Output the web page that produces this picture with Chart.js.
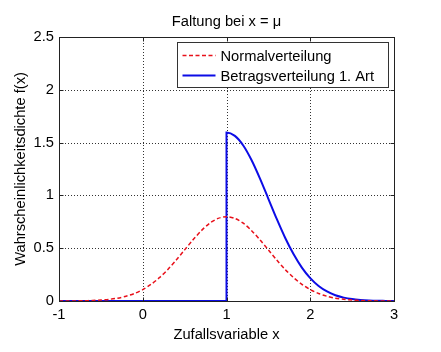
<!DOCTYPE html>
<html>
<head>
<meta charset="utf-8">
<script src="https://cdn.jsdelivr.net/npm/chart.js@4/dist/chart.umd.min.js"></script>
<style>
  html, body { margin: 0; padding: 0; background: #fff; }
  canvas { display: block; }
</style>
</head>
<body>
<canvas id="c" width="441" height="352"></canvas>
<script>
// Sample positions on the x axis
const xValues = [-1.0,-0.9,-0.8,-0.7,-0.6,-0.5,-0.4,-0.3,-0.2,-0.1,
                  0.0, 0.1, 0.2, 0.3, 0.4, 0.5, 0.6, 0.7, 0.8, 0.9,
                  1.0, 1.1, 1.2, 1.3, 1.4, 1.5, 1.6, 1.7, 1.8, 1.9,
                  2.0, 2.1, 2.2, 2.3, 2.4, 2.5, 2.6, 2.7, 2.8, 2.9, 3.0];

// Normal density (mu = 1)
const normalValues = [0.000,0.001,0.001,0.002,0.005,0.009,0.016,0.027,0.045,0.071,
                      0.108,0.158,0.222,0.299,0.388,0.484,0.579,0.666,0.737,0.782,
                      0.798,0.782,0.737,0.666,0.579,0.484,0.388,0.299,0.222,0.158,
                      0.108,0.071,0.045,0.027,0.016,0.009,0.005,0.002,0.001,0.001,0.000];

// Folded density: zero below mu, jumps at mu
const foldedX      = [-1.0, 1.0, 1.0, 1.1, 1.2, 1.3, 1.4, 1.5, 1.6, 1.7, 1.8, 1.9,
                       2.0, 2.1, 2.2, 2.3, 2.4, 2.5, 2.6, 2.7, 2.8, 2.9, 3.0];
const foldedValues = [0.000, 0.000, 1.596, 1.564, 1.473, 1.333, 1.159, 0.968, 0.777, 0.599, 0.444, 0.316,
                      0.216, 0.142, 0.090, 0.054, 0.032, 0.018, 0.010, 0.005, 0.002, 0.001, 0.000];

const xTicks = [-1, 0, 1, 2, 3];
const yTicks = [0, 0.5, 1, 1.5, 2, 2.5];

const seriesNames = ['Normalverteilung', 'Betragsverteilung 1. Art'];
const titleText = 'Faltung bei x = \u03bc';

const FONT = 'Arial, "Liberation Sans", sans-serif';
const FS = 14.7;

const normalPts = xValues.map((x, i) => ({ x, y: normalValues[i] }));
const foldedPts = foldedX.map((x, i) => ({ x, y: foldedValues[i] }));

// Frame, inward ticks, title and legend box
const decor = {
  id: 'decor',
  beforeDatasetsDraw(chart) {
    const { ctx, chartArea: a, scales } = chart;
    ctx.save();
    // dotted grid
    ctx.strokeStyle = '#333';
    ctx.lineWidth = 1;
    ctx.setLineDash([1, 2]);
    xTicks.forEach(v => {
      const px = Math.round(scales.x.getPixelForValue(v)) + 0.5;
      if (px > a.left + 1 && px < a.right - 1) {
        ctx.beginPath(); ctx.moveTo(px, a.top); ctx.lineTo(px, a.bottom); ctx.stroke();
      }
    });
    yTicks.forEach(v => {
      const py = Math.round(scales.y.getPixelForValue(v)) + 0.5;
      if (py > a.top + 1 && py < a.bottom - 1) {
        ctx.beginPath(); ctx.moveTo(a.left, py); ctx.lineTo(a.right, py); ctx.stroke();
      }
    });
    ctx.restore();
  },
  afterDatasetsDraw(chart) {
    const { ctx, chartArea: a, scales } = chart;
    ctx.save();
    ctx.setLineDash([]);
    ctx.strokeStyle = '#222';
    ctx.lineWidth = 1;
    const L = Math.round(a.left) + 0.5, R = Math.round(a.right) + 0.5;
    const T = Math.round(a.top) + 0.5, B = Math.round(a.bottom) + 0.5;
    ctx.strokeRect(L, T, R - L, B - T);
    const tl = 4;
    xTicks.forEach(v => {
      const px = Math.round(scales.x.getPixelForValue(v)) + 0.5;
      ctx.beginPath();
      ctx.moveTo(px, B); ctx.lineTo(px, B - tl);
      ctx.moveTo(px, T); ctx.lineTo(px, T + tl);
      ctx.stroke();
    });
    yTicks.forEach(v => {
      const py = Math.round(scales.y.getPixelForValue(v)) + 0.5;
      ctx.beginPath();
      ctx.moveTo(L, py); ctx.lineTo(L + tl, py);
      ctx.moveTo(R, py); ctx.lineTo(R - tl, py);
      ctx.stroke();
    });

    // title
    ctx.fillStyle = '#000';
    ctx.font = FS + 'px ' + FONT;
    ctx.textAlign = 'center';
    ctx.textBaseline = 'middle';
    ctx.fillText(titleText, (a.left + a.right) / 2, 22);

    // legend
    const bx = 177.5, by = 42.5, bw = 211, bh = 45;
    ctx.fillStyle = '#fff';
    ctx.fillRect(bx, by, bw, bh);
    ctx.strokeStyle = '#333';
    ctx.strokeRect(bx, by, bw, bh);
    const ds = chart.data.datasets;
    const rows = [by + 13, by + 33];
    rows.forEach((ry, i) => {
      ctx.strokeStyle = ds[i].borderColor;
      ctx.lineWidth = ds[i].borderWidth;
      ctx.setLineDash(ds[i].borderDash || []);
      ctx.beginPath(); ctx.moveTo(bx + 5, ry); ctx.lineTo(bx + 38, ry); ctx.stroke();
      ctx.setLineDash([]);
      ctx.fillStyle = '#000';
      ctx.textAlign = 'left';
      ctx.font = FS + 'px ' + FONT;
      ctx.fillText(seriesNames[i], bx + 43, ry + 1);
    });
    ctx.restore();
  }
};

new Chart(document.getElementById('c'), {
  type: 'line',
  data: {
    datasets: [
      {
        label: seriesNames[0],
        data: normalPts,
        borderColor: '#e8101a',
        borderWidth: 1.5,
        borderDash: [4, 2.5],
        pointRadius: 0,
        fill: false,
        tension: 0.3
      },
      {
        label: seriesNames[1],
        data: foldedPts,
        borderColor: '#0c0ce6',
        borderWidth: 2,
        pointRadius: 0,
        fill: false,
        cubicInterpolationMode: 'monotone'
      }
    ]
  },
  options: {
    responsive: false,
    animation: false,
    devicePixelRatio: 1,
    layout: { padding: { top: 37, right: 47, left: 12, bottom: 8 } },
    plugins: { legend: { display: false }, title: { display: false }, tooltip: { enabled: false } },
    scales: {
      x: {
        type: 'linear',
        min: -1, max: 3,
        afterBuildTicks(s) { s.ticks = xTicks.map(v => ({ value: v })); },
        afterFit(s) { s.height = 43; },
        grid: { display: false, drawTicks: false },
        border: { display: false },
        ticks: { color: '#000', font: { size: FS, family: FONT }, padding: 5, maxRotation: 0, autoSkip: false,
                 callback: v => String(v) },
        title: { display: true, text: 'Zufallsvariable x', color: '#000', font: { size: FS, family: FONT }, padding: { top: 0, bottom: 0 } }
      },
      y: {
        type: 'linear',
        min: 0, max: 2.5,
        afterBuildTicks(s) { s.ticks = yTicks.map(v => ({ value: v })); },
        afterFit(s) { s.width = 47; },
        grid: { display: false, drawTicks: false },
        border: { display: false },
        ticks: { color: '#000', font: { size: FS, family: FONT }, padding: 5, callback: v => String(v) },
        title: { display: true, text: 'Wahrscheinlichkeitsdichte f(x)', color: '#000', font: { size: FS, family: FONT }, padding: 0 }
      }
    }
  },
  plugins: [decor]
});
</script>
</body>
</html>
